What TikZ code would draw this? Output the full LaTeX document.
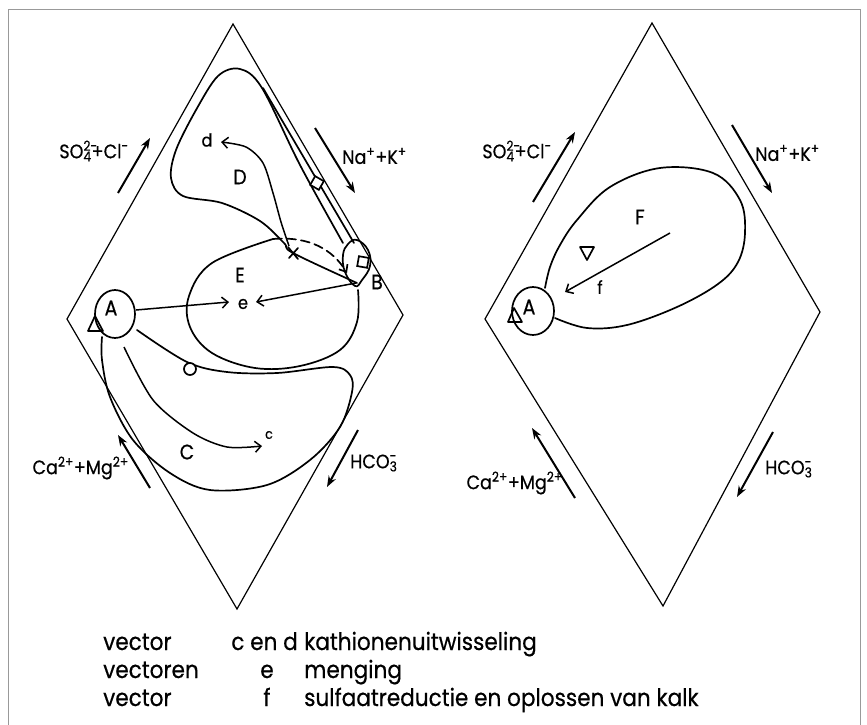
\documentclass[tikz,border=0pt]{standalone}
\usepackage{fontspec}
\setmainfont[FakeStretch=0.9, FakeBold=0.5]{Poppins}
\usetikzlibrary{arrows.meta}

\newcommand{\supsub}[2]{\rlap{\textsuperscript{#1}}\textsubscript{#2}}

\tikzset{
  edge/.style={line width=1.2pt},
  zone/.style={line width=1.7pt, line cap=round, line join=round},
  ionarrow/.style={line width=2pt, -{Stealth[length=11pt,width=8pt]}},
  vecarrow/.style={line width=1.5pt, -{Straight Barb[length=6pt,width=11pt]}},
  ionlabel/.style={font=\fontsize{19.5}{19.5}\selectfont, inner sep=0pt},
  zonelabel/.style={font=\fontsize{21}{21}\selectfont, inner sep=0pt},
  veclabel/.style={font=\fontsize{18}{18}\selectfont, inner sep=0pt},
  marker/.style={draw, fill=white, line width=1.7pt, inner sep=0pt,
    minimum size=10pt},
  legend/.style={font=\fontsize{24}{24}\selectfont, inner sep=0pt, anchor=base west},
}

\begin{document}
\begin{tikzpicture}[x=1pt, y=-1pt]
  \useasboundingbox (0,0) rectangle (867,725);

  % Frame
  \draw[gray!80, line width=1pt] (8,725) -- (8,10) -- (860,10) -- (860,725);

  % Left diamond
  \draw[edge] (233,24) -- (403,315) -- (237,609) -- (67,319) -- cycle;

  % Region D and vector d
  \draw[zone] plot[smooth, tension=0.55] coordinates {(343,243) (300,165) (262,88)
    (240,69) (218,76) (196,110) (176,150) (171,178) (183,196) (222,203) (260,221)
    (284,243) (293,253) (357,283)};
  \draw[zone] (263,88) -- (354,243);
  \node[marker, rotate=-30] (sq1) at (317,183) {};
  \draw[vecarrow] plot[smooth] coordinates {(289,246) (281,222) (273,193) (263,163)
    (246,147) (221,142)};
  \node[veclabel] (dlab) at (207,140) {d};
  \node[zonelabel] (Dlab) at (240,177) {D};
  \draw[zone] (288,247) -- (298,259) (298,248) -- (289,258);

  % Field B
  \draw[zone] plot[smooth cycle, tension=0.7] coordinates {(357,240) (368,250)
    (370,266) (362,280) (355,286) (345,272) (343,255) (348,244)};
  \node[marker, rotate=-10] (sq2) at (363,262) {};
  \node[zonelabel] (Blab) at (377,282) {B};

  % Region E and vectors e
  \draw[zone] plot[smooth, tension=0.6] coordinates {(358,290) (357,322) (340,350)
    (300,366) (255,368) (212,353) (190,327) (189,296) (212,263) (273,239)};
  \draw[zone, dashed, dash pattern=on 9pt off 5pt, -{Straight Barb[length=6pt,width=10pt]}]
    (273,239) .. controls (310,236) and (333,250) .. (347,273);
  \node[zonelabel] (Elab) at (240,275) {E};
  \node[veclabel] (elab) at (243,304) {e};
  \draw[vecarrow] (136,310) -- (229,302);
  \draw[vecarrow] (356,283) -- (256,302);

  % Field A
  \draw[zone] (115,314) ellipse [x radius=20pt, y radius=24pt];
  \draw[zone] (88,331) -- (103,331) -- (95,316) -- cycle;
  \node[zonelabel] (Alab) at (111,308) {A};

  % Region C and vector c
  \draw[zone] plot[smooth, tension=0.55] coordinates {(137,330) (187,362) (227,372)
    (277,373) (333,367) (350,375) (352,392) (340,427) (310,460) (267,485) (210,490)
    (170,473) (133,440) (110,397) (102,360) (102,337)};
  \draw[zone, fill=white] (190,369) circle (6pt);
  \draw[vecarrow] plot[smooth] coordinates {(124,347) (153,400) (193,433) (227,447)
    (262,446)};
  \node[font=\fontsize{14}{14}\selectfont, inner sep=0pt] (clab) at (269,435) {c};
  \node[zonelabel] (Clab) at (187,452) {C};

  % Ion arrows, left
  \draw[ionarrow] (118,193) -- (150,138);
  \node[ionlabel, anchor=east] (so1) at (129,151) {SO\supsub{2-}{4}+Cl\textsuperscript{-}};
  \draw[ionarrow] (315,128) -- (355,193);
  \node[ionlabel, anchor=west] (na1) at (342,156) {Na\textsuperscript{+}+K\textsuperscript{+}};
  \draw[ionarrow] (150,488) -- (118,435);
  \node[ionlabel, anchor=east] (ca1) at (129,468) {Ca\textsuperscript{2+}+Mg\textsuperscript{2+}};
  \draw[ionarrow] (358,430) -- (327,487);
  \node[ionlabel, anchor=west] (hc1) at (350,463) {HCO\supsub{-}{3}};

  % Right diamond
  \draw[edge] (652,23) -- (820,312) -- (663,606) -- (485,319) -- cycle;

  % Region F and vector f
  \draw[zone] plot[smooth, tension=0.6] coordinates {(545,288) (550,267) (560,245)
    (577,220) (610,187) (660,168) (713,173) (740,200) (745,233) (738,262) (718,284)
    (677,307) (627,325) (587,328) (555,318)};
  \draw[vecarrow] (670,233) -- (565,292);
  \node[zonelabel] (Flab) at (640,217) {F};
  \node[veclabel] (flab) at (600,287) {f};
  \draw[zone] (580,247) -- (594,247) -- (587,260) -- cycle;

  % Field A, right
  \draw[zone] (533,311) ellipse [x radius=21pt, y radius=24pt];
  \draw[zone] (508,322) -- (522,322) -- (514,308) -- cycle;
  \node[zonelabel] (Alab2) at (529,307) {A};

  % Ion arrows, right
  \draw[ionarrow] (533,202) -- (575,132);
  \node[ionlabel, anchor=east] (so2) at (552,151) {SO\supsub{2-}{4}+Cl\textsuperscript{-}};
  \draw[ionarrow] (732,125) -- (772,193);
  \node[ionlabel, anchor=west] (na2) at (755,153) {Na\textsuperscript{+}+K\textsuperscript{+}};
  \draw[ionarrow] (575,498) -- (532,428);
  \node[ionlabel, anchor=east] (ca2) at (563,483) {Ca\textsuperscript{2+}+Mg\textsuperscript{2+}};
  \draw[ionarrow] (773,432) -- (737,497);
  \node[ionlabel, anchor=west] (hc2) at (765,469) {HCO\supsub{-}{3}};

  % Legend
  \node[legend] (v1) at (103,650) {vector};
  \node[legend, anchor=base east] (w1) at (298,650) {c en d};
  \node[legend] (t1) at (304,650) {kathionenuitwisseling};
  \node[legend] (v2) at (103,678) {vectoren};
  \node[legend, anchor=base] (w2) at (267,678) {e};
  \node[legend] (t2) at (304,678) {menging};
  \node[legend] (v3) at (103,706) {vector};
  \node[legend, anchor=base] (w3) at (267,706) {f};
  \node[legend] (t3) at (304,706) {sulfaatreductie en oplossen van kalk};
\end{tikzpicture}
\end{document}
